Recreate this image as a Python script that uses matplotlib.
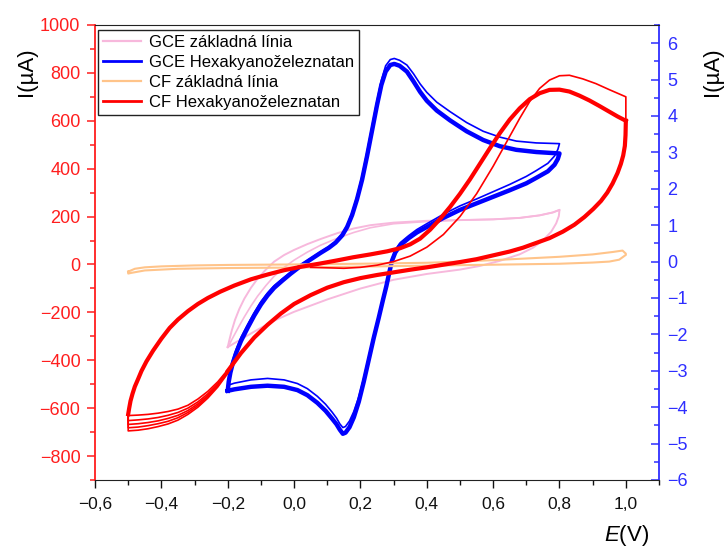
import matplotlib.pyplot as plt
from matplotlib.ticker import MultipleLocator, FuncFormatter
from matplotlib.lines import Line2D

plt.rcParams['font.family'] = ['Liberation Sans', 'DejaVu Sans']
plt.rcParams['mathtext.fontset'] = 'custom'
plt.rcParams['mathtext.rm'] = 'Liberation Sans'
plt.rcParams['mathtext.it'] = 'Liberation Sans:italic'

# GCE, hexacyanoferrate (uA): anodic sweep -0.2 -> 0.8 V
gce_fcn_anod_x = [-0.200, -0.197, -0.192, -0.185, -0.175, -0.160, -0.140, -0.120, -0.100, -0.080,
                  -0.060, -0.035, -0.010, 0.020, 0.050, 0.080, 0.105, 0.125, 0.145, 0.160,
                  0.175, 0.190, 0.205, 0.220, 0.235, 0.250, 0.263, 0.276, 0.290, 0.302,
                  0.318, 0.340, 0.360, 0.380, 0.400, 0.430, 0.470, 0.520, 0.570, 0.620,
                  0.670, 0.730, 0.800]
gce_fcn_anod_y = [-3.55, -3.30, -3.05, -2.80, -2.52, -2.18, -1.82, -1.48, -1.18, -0.93,
                  -0.72, -0.52, -0.33, -0.12, 0.06, 0.24, 0.38, 0.52, 0.72, 0.95,
                  1.28, 1.72, 2.25, 2.90, 3.60, 4.30, 4.85, 5.22, 5.40, 5.43,
                  5.38, 5.22, 4.95, 4.66, 4.42, 4.15, 3.88, 3.58, 3.34, 3.17,
                  3.07, 3.01, 2.97]
gce_fcn_anod_y1 = [-3.40, -3.18, -2.95, -2.70, -2.42, -2.08, -1.73, -1.40, -1.10, -0.86,
                   -0.66, -0.47, -0.29, -0.09, 0.09, 0.27, 0.41, 0.55, 0.76, 1.00,
                   1.35, 1.80, 2.35, 3.02, 3.72, 4.42, 4.98, 5.38, 5.55, 5.58,
                   5.53, 5.40, 5.16, 4.88, 4.65, 4.38, 4.12, 3.82, 3.58, 3.42,
                   3.31, 3.26, 3.24]
# cathodic sweep 0.8 -> -0.2 V
gce_fcn_cath_x = [0.800, 0.795, 0.785, 0.765, 0.730, 0.700, 0.650, 0.600, 0.550, 0.500,
                  0.450, 0.400, 0.370, 0.345, 0.320, 0.305, 0.295, 0.287, 0.278, 0.268,
                  0.255, 0.240, 0.225, 0.210, 0.195, 0.180, 0.167, 0.155, 0.147, 0.138,
                  0.128, 0.115, 0.095, 0.070, 0.040, 0.010, -0.030, -0.080, -0.130, -0.180,
                  -0.200]
gce_fcn_cath_y = [2.97, 2.82, 2.66, 2.48, 2.30, 2.15, 1.96, 1.78, 1.60, 1.42,
                  1.20, 0.95, 0.80, 0.64, 0.45, 0.25, 0.02, -0.30, -0.68, -1.05,
                  -1.55, -2.10, -2.70, -3.30, -3.85, -4.28, -4.55, -4.70, -4.73, -4.62,
                  -4.47, -4.32, -4.10, -3.88, -3.67, -3.53, -3.44, -3.41, -3.44, -3.51,
                  -3.55]
gce_fcn_cath_y1 = [3.24, 3.08, 2.90, 2.70, 2.50, 2.34, 2.12, 1.92, 1.72, 1.53,
                   1.30, 1.04, 0.88, 0.71, 0.52, 0.32, 0.08, -0.25, -0.62, -0.98,
                   -1.48, -2.02, -2.62, -3.20, -3.72, -4.12, -4.38, -4.53, -4.56, -4.46,
                   -4.30, -4.14, -3.92, -3.70, -3.49, -3.35, -3.25, -3.21, -3.25, -3.34,
                   -3.40]

# GCE baseline (uA)
gce_base_anod_x = [-0.200, -0.195, -0.188, -0.178, -0.165, -0.150, -0.130, -0.110, -0.085, -0.060,
                   -0.030, 0.000, 0.040, 0.080, 0.130, 0.180, 0.230, 0.300, 0.400, 0.500,
                   0.600, 0.680, 0.740, 0.780, 0.800]
gce_base_anod_y1 = [-2.35, -2.15, -1.90, -1.60, -1.30, -1.02, -0.72, -0.47, -0.22, 0.00,
                    0.18, 0.32, 0.48, 0.62, 0.78, 0.91, 1.00, 1.07, 1.12, 1.14,
                    1.16, 1.20, 1.27, 1.35, 1.42]
gce_base_anod_y2 = [-2.35, -2.28, -2.15, -1.98, -1.76, -1.52, -1.22, -0.95, -0.66, -0.40,
                    -0.16, 0.04, 0.26, 0.45, 0.64, 0.80, 0.93, 1.04, 1.10, 1.14,
                    1.16, 1.20, 1.27, 1.35, 1.42]
gce_base_cath_x = [0.800, 0.798, 0.790, 0.775, 0.750, 0.720, 0.680, 0.620, 0.560, 0.500,
                   0.400, 0.300, 0.200, 0.100, 0.000, -0.050, -0.100, -0.150, -0.200]
gce_base_cath_y = [1.42, 1.25, 1.05, 0.82, 0.58, 0.38, 0.20, 0.02, -0.12, -0.22,
                   -0.34, -0.50, -0.74, -1.04, -1.38, -1.58, -1.82, -2.08, -2.35]

# CF baseline (uA), -0.5 -> 1.0 -> -0.5 V
cf_base_x = [-0.500, -0.480, -0.450, -0.400, -0.300, -0.200, 0.000, 0.200, 0.400, 0.500,
             0.600, 0.700, 0.800, 0.900, 0.960, 0.990, 1.000,
             1.000, 0.980, 0.950, 0.900, 0.800, 0.600, 0.400, 0.200, 0.000,
             -0.200, -0.350, -0.450, -0.490, -0.500, -0.500]
cf_base_y = [-30, -18, -12, -8, -4, -2, 0, 3, 7, 12,
             18, 25, 32, 42, 52, 58, 45,
             40, 20, 12, 8, 3, -1, -5, -9, -13,
             -15, -18, -25, -35, -38, -30]

# CF, hexacyanoferrate (uA): anodic branch of cycles 2+
cf_anod_x = [-0.500, -0.497, -0.493, -0.487, -0.480, -0.470, -0.460, -0.445, -0.425, -0.400,
             -0.375, -0.350, -0.320, -0.290, -0.260, -0.223, -0.180, -0.130, -0.080, -0.030,
             0.020, 0.079, 0.130, 0.178, 0.230, 0.281, 0.320, 0.350, 0.380, 0.410,
             0.440, 0.470, 0.500, 0.530, 0.560, 0.590, 0.620, 0.650, 0.680, 0.710,
             0.740, 0.770, 0.800, 0.830, 0.860, 0.890, 0.920, 0.950, 0.975, 0.993,
             1.000]
cf_anod_y = [-625, -600, -570, -540, -510, -478, -445, -405, -360, -310,
             -265, -230, -195, -165, -140, -114, -88, -62, -42, -24,
             -10, 4, 17, 30, 42, 55, 68, 84, 108, 145,
             190, 240, 295, 355, 420, 485, 548, 605, 652, 690,
             715, 729, 730, 722, 705, 685, 662, 638, 618, 605,
             600]
# cathodic branch, common part 1.0 -> -0.2 V
cf_cath_x = [1.000, 0.999, 0.997, 0.992, 0.985, 0.975, 0.960, 0.944, 0.925, 0.902,
             0.875, 0.845, 0.810, 0.770, 0.730, 0.690, 0.650, 0.600, 0.550, 0.500,
             0.450, 0.400, 0.350, 0.300, 0.250, 0.200, 0.150, 0.100, 0.050, 0.000,
             -0.040, -0.080, -0.120, -0.160, -0.200]
cf_cath_y = [600, 540, 495, 455, 420, 382, 338, 300, 265, 232,
             198, 166, 137, 110, 90, 70, 54, 38, 22, 10,
             -1, -12, -22, -33, -44, -57, -74, -97, -128, -165,
             -205, -252, -305, -370, -445]
# cathodic tail -0.2 -> -0.5 V, one row per cycle
cf_tail_x = [-0.200, -0.230, -0.260, -0.290, -0.320, -0.350, -0.380, -0.410, -0.440, -0.470,
             -0.500, -0.500]
cf_tail_y = [
    [-440, -490, -530, -562, -588, -604, -614, -621, -626, -629, -631, -625],
    [-445, -498, -540, -574, -600, -618, -630, -639, -645, -649, -652, -625],
    [-448, -503, -547, -582, -610, -630, -643, -653, -660, -665, -668, -625],
    [-451, -507, -552, -589, -618, -640, -655, -665, -673, -679, -682, -625],
    [-455, -512, -558, -596, -626, -650, -666, -677, -686, -692, -695, -625],
]
# first cycle, anodic part
cf_first_x = [0.050, 0.100, 0.150, 0.200, 0.250, 0.300, 0.350, 0.400, 0.450, 0.500,
              0.550, 0.600, 0.640, 0.680, 0.710, 0.740, 0.770, 0.800, 0.830, 0.870,
              0.910, 0.950, 0.980, 1.000, 1.000]
cf_first_y = [-12, -14, -16, -12, -3, 12, 35, 72, 125, 200,
              295, 410, 510, 610, 680, 735, 770, 788, 790, 775,
              755, 730, 712, 700, 600]

labels = ['GCE základná línia', 'GCE Hexakyanoželeznatan',
          'CF základná línia', 'CF Hexakyanoželeznatan']
c_pink = '#F7B8DC'
c_blue = '#0000FF'
c_orange = '#FFC48A'
c_red = '#FF0000'


def fmt_dec(v, pos):
    if abs(v) < 1e-9:
        return '0,0'
    return f'{v:.1f}'.replace('.', ',').replace('-', '\u2212')


def fmt_int(v, pos):
    if abs(v) < 1e-9:
        return '0'
    return f'{v:.0f}'.replace('-', '\u2212')


fig = plt.figure(figsize=(7.27, 5.49), dpi=100)
ax = fig.add_axes([0.1307, 0.1257, 0.7758, 0.8288])
ax2 = ax.twinx()
ax.set_zorder(ax2.get_zorder() + 1)
ax.patch.set_visible(False)

# right axis: GCE
ax2.plot(gce_base_anod_x + gce_base_cath_x, gce_base_anod_y1 + gce_base_cath_y,
         color=c_pink, lw=1.4)
ax2.plot(gce_base_anod_x, gce_base_anod_y2, color=c_pink, lw=1.2)
ax2.plot(gce_fcn_anod_x + gce_fcn_cath_x, gce_fcn_anod_y + gce_fcn_cath_y,
         color=c_blue, lw=3.2, solid_joinstyle='round')
ax2.plot(gce_fcn_anod_x + gce_fcn_cath_x, gce_fcn_anod_y1 + gce_fcn_cath_y1,
         color=c_blue, lw=1.2)

# left axis: CF
ax.plot(cf_base_x, cf_base_y, color=c_orange, lw=1.5)
ax.plot(cf_anod_x, cf_anod_y, color=c_red, lw=3.0, solid_joinstyle='round')
ax.plot(cf_cath_x, cf_cath_y, color=c_red, lw=3.0, solid_joinstyle='round')
for row in cf_tail_y:
    ax.plot(cf_tail_x, row, color=c_red, lw=1.2)
ax.plot(cf_first_x, cf_first_y, color=c_red, lw=1.2)

ax.set_xlim(-0.6, 1.1)
ax.set_ylim(-900, 1000)
ax2.set_ylim(-6, 6.5)

ax.xaxis.set_major_locator(MultipleLocator(0.2))
ax.xaxis.set_minor_locator(MultipleLocator(0.1))
ax.xaxis.set_major_formatter(FuncFormatter(fmt_dec))
ax.yaxis.set_major_locator(MultipleLocator(200))
ax.yaxis.set_minor_locator(MultipleLocator(100))
ax.yaxis.set_major_formatter(FuncFormatter(fmt_int))
ax2.yaxis.set_major_locator(MultipleLocator(1))
ax2.yaxis.set_minor_locator(MultipleLocator(0.5))
ax2.yaxis.set_major_formatter(FuncFormatter(fmt_int))

red_axis = '#FF1E1E'
blue_axis = '#2E2EFF'
ax.spines['right'].set_visible(False)
ax.spines['left'].set_color(red_axis)
ax.spines['left'].set_linewidth(1.3)
ax.spines['top'].set_color('#222222')
ax.spines['bottom'].set_color('#222222')
for s in ['left', 'top', 'bottom']:
    ax2.spines[s].set_visible(False)
ax2.spines['right'].set_color(blue_axis)
ax2.spines['right'].set_linewidth(1.3)

ax.tick_params(axis='x', which='major', direction='out', length=6, width=1,
               labelsize=12.5, pad=6, colors='#111111')
ax.tick_params(axis='x', which='minor', direction='out', length=3.5, width=1,
               colors='#111111')
ax.tick_params(axis='y', which='major', direction='out', length=6, width=1.1,
               labelsize=13, pad=4.5, colors=red_axis)
ax.tick_params(axis='y', which='minor', direction='out', length=3.5, width=1.1,
               colors=red_axis)
ax2.tick_params(axis='y', which='major', direction='in', length=6, width=1.1,
                labelsize=13, pad=6, colors=blue_axis)
ax2.tick_params(axis='y', which='minor', direction='in', length=3.5, width=1.1,
                colors=blue_axis)

ax.set_ylabel('I(µA)', fontsize=16, color='black', rotation=90,
              ha='center', va='center')
ax.yaxis.set_label_coords(-0.122, 0.897)
ax2.set_ylabel('I(µA)', fontsize=16, color='black', rotation=90,
               ha='center', va='center')
ax2.yaxis.set_label_coords(1.095, 0.897)
ax.set_xlabel('$E$(V)', fontsize=16, color='black', ha='center', va='center')
ax.xaxis.set_label_coords(0.943, -0.122)

handles = [Line2D([], [], color=c_pink, lw=1.6),
           Line2D([], [], color=c_blue, lw=2.0),
           Line2D([], [], color=c_orange, lw=1.6),
           Line2D([], [], color=c_red, lw=2.0)]
leg = ax.legend(handles, labels, loc='upper left', bbox_to_anchor=(0.005, 0.99),
                borderaxespad=0, fontsize=12, frameon=True, fancybox=False,
                edgecolor='#222222', framealpha=1, handlelength=2.3,
                handletextpad=0.45, labelspacing=0.3, borderpad=0.3)
leg.get_frame().set_linewidth(1.0)

fig.savefig('out.png', dpi=100)
